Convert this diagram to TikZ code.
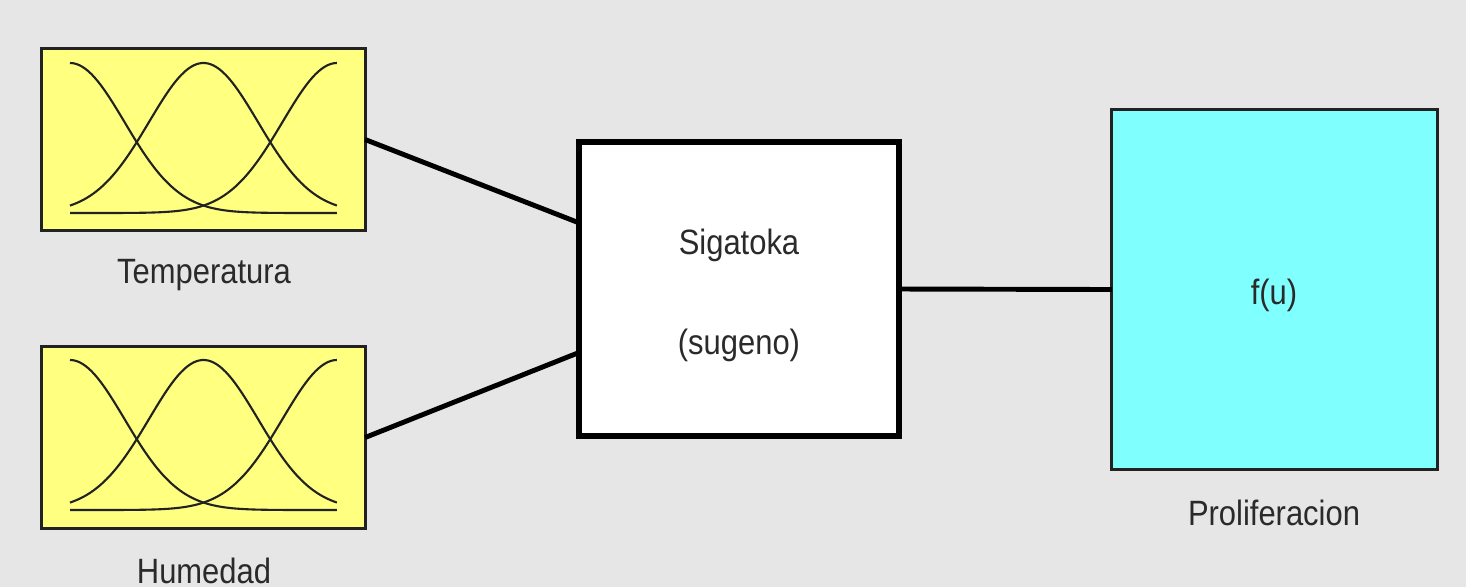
\documentclass[tikz,border=0pt]{standalone}
\usepackage{fontspec}
\usepackage{graphicx}
\setmainfont{Liberation Sans}
\usetikzlibrary{calc}
\definecolor{bg}{HTML}{E6E6E6}
\definecolor{mfyellow}{HTML}{FFFF80}
\definecolor{outcyan}{HTML}{80FFFF}
\definecolor{txt}{HTML}{2A2A2A}
\definecolor{edge}{HTML}{222222}
\tikzset{
  inbox/.style={draw=edge, line width=0.85pt, fill=mfyellow, minimum width=3.23cm, minimum height=1.81cm, inner sep=0pt, outer sep=0pt},
  rulebox/.style={draw=black, line width=1.7pt, fill=white, minimum width=3.2cm, minimum height=2.94cm, inner sep=0pt, outer sep=0pt},
  outbox/.style={draw=edge, line width=0.85pt, fill=outcyan, minimum width=3.25cm, minimum height=3.59cm, inner sep=0pt, outer sep=0pt},
  lbl/.style={text=txt, font=\fontsize{10}{12}\selectfont, inner sep=0pt},
  wire/.style={line width=1.4pt, black},
  mf/.style={line width=0.6pt, edge}
}
\newcommand\nt[1]{\scalebox{0.88}[1]{#1}}
\newcommand\mfthree[1]{%
  \begin{scope}[shift={(#1)}]
    \foreach \c in {0,0.5,1}{
      \draw[mf] plot[domain=0:1, samples=90, smooth] ({70+267*\x}, {213-150*exp(-0.5*((\x-\c)*4.9)^2)});
    }
  \end{scope}}
\begin{document}
\begin{tikzpicture}[x=0.01cm, y=-0.01cm]
  \fill[bg] (0,0) rectangle (1466,587);
  \useasboundingbox (0,0) rectangle (1466,587);

  \node[inbox] (T) at (203.5,139.5) {};
  \mfthree{0,0}
  \node[lbl] (Tl) at (204,275) {\nt{Temperatura}};

  \node[inbox] (H) at (203.5,437.5) {};
  \mfthree{0,297}
  \node[lbl] (Hl) at (204,571) {\nt{Humedad}};

  \node[rulebox] (S) at (739,289) {};
  \node[lbl] (S1) at (739,245) {\nt{Sigatoka}};
  \node[lbl] (S2) at (739,345) {\nt{(sugeno)}};

  \node[outbox] (P) at (1274.5,289.5) {};
  \node[lbl] (Pf) at (1274,295) {\nt{f(u)}};
  \node[lbl] (Pl) at (1274,513) {\nt{Proliferacion}};

  \draw[wire] (T.east) -- ($(S.north west)!0.275!(S.south west)$);
  \draw[wire] (H.east) -- ($(S.north west)!0.716!(S.south west)$);
  \draw[wire] (S.east) -- (P.west);
\end{tikzpicture}
\end{document}
